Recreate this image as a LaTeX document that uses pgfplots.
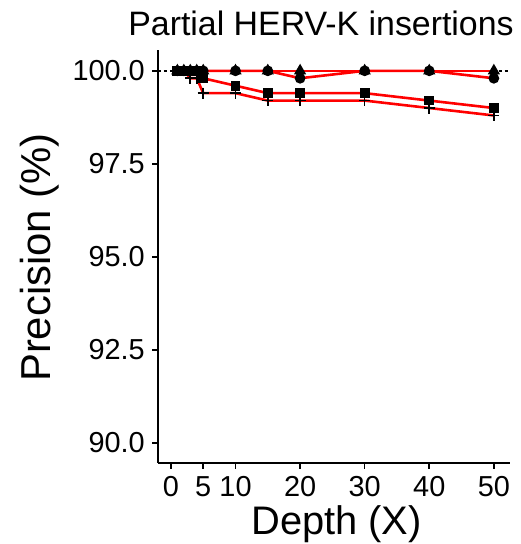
\documentclass[border=0pt]{standalone}
\usepackage{fontspec}
\setmainfont{Liberation Sans}
\usepackage{pgfplots}
\pgfplotsset{compat=1.18}
\begin{document}
\begin{tikzpicture}[x=1bp,y=1bp]
\useasboundingbox (0,0) rectangle (521,544);
\begin{axis}[
  at={(158bp,81bp)}, anchor=south west,
  scale only axis, width=352bp, height=413bp,
  xmin=-2, xmax=52.5, ymin=89.46, ymax=100.56,
  axis x line*=bottom, axis y line*=left,
  axis line style={-, line width=2bp, black},
  xtick={0,5,10,20,30,40,50},
  ytick={90,92.5,95,97.5,100},
  yticklabel style={/pgf/number format/fixed, /pgf/number format/fixed zerofill, /pgf/number format/precision=1, inner sep=0pt, xshift=-7bp},
  /pgf/number format/assume math mode=true,
  tick align=outside, major tick length=6bp,
  tick style={line width=1.6bp, black},
  ticklabel style={font=\fontsize{29}{32}\selectfont, black},
  xticklabel style={anchor=base, yshift=-28bp},
  clip=false,
]
\addplot[black, dashed, line width=1.4bp, forget plot] coordinates {(-2,100) (52.5,100)};
\addplot[red, line width=2.6bp, mark=*, mark size=4bp, mark options={black, solid}] coordinates {
(1,100) (2,100) (3,100) (4,100) (5,100) (10,100) (15,100) (20,99.8) (30,100) (40,100) (50,99.8)};
\addplot[red, line width=2.6bp, mark=triangle*, mark size=4.5bp, mark options={black, solid}] coordinates {
(1,100) (2,100) (3,100) (4,100) (5,100) (10,100) (15,100) (20,100) (30,100) (40,100) (50,100)};
\addplot[red, line width=2.6bp, mark=square*, mark size=3.6bp, mark options={black, solid}] coordinates {
(1,100) (2,100) (3,100) (4,100) (5,99.8) (10,99.6) (15,99.4) (20,99.4) (30,99.4) (40,99.2) (50,99.0)};
\addplot[red, line width=2.6bp, mark=+, mark size=5.5bp, mark options={black, solid, line width=1.6bp}] coordinates {
(1,100) (2,100) (3,99.8) (4,99.8) (5,99.4) (10,99.4) (15,99.2) (20,99.2) (30,99.2) (40,99.0) (50,98.8)};
\end{axis}
\node[font=\fontsize{34}{38}\selectfont, anchor=base] at (321,508) {Partial HERV-K insertions};
\node[font=\fontsize{42}{46}\selectfont, rotate=90, anchor=base] at (50,286.5) {Precision (\%)};
\node[font=\fontsize{40}{44}\selectfont, anchor=base] at (336.5,9) {Depth (X)};
\end{tikzpicture}
\end{document}
